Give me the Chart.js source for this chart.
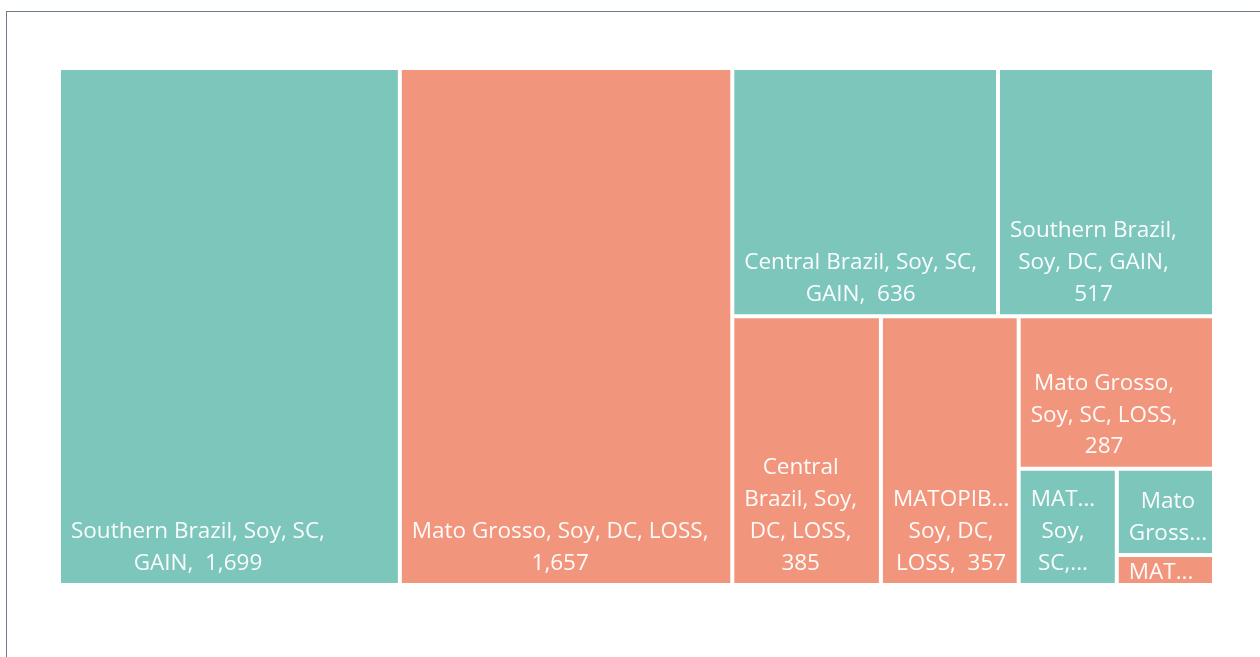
<!DOCTYPE html>
<html>
<head>
<meta charset="utf-8">
<script src="https://cdn.jsdelivr.net/npm/chart.js@4.4.1/dist/chart.umd.min.js"></script>
<style>
  html, body { margin: 0; padding: 0; background: #ffffff; }
  #wrap { position: relative; width: 1260px; height: 657px; overflow: hidden; background: #fff; }
  #frame { position: absolute; left: 6px; top: 11px; width: 1400px; height: 800px;
           border-left: 1px solid #6c7c89; border-top: 1px solid #6c7c89; }
  #c { position: absolute; left: 0; top: 0; }
</style>
</head>
<body>
<div id="wrap">
  <div id="frame"></div>
  <canvas id="c" width="1260" height="657"></canvas>
</div>
<script>
// ---- data ----
const regions = ['Southern Brazil', 'Mato Grosso', 'Central Brazil', 'Southern Brazil', 'Central Brazil',
                 'MATOPIBA', 'Mato Grosso', 'MATOPIBA', 'Mato Grosso', 'MATOPIBA'];
const crops   = ['Soy', 'Soy', 'Soy', 'Soy', 'Soy', 'Soy', 'Soy', 'Soy', 'Corn', 'Corn'];
const systems = ['SC', 'DC', 'SC', 'DC', 'DC', 'DC', 'SC', 'SC', 'SC', 'DC'];
const changes = ['GAIN', 'LOSS', 'GAIN', 'GAIN', 'LOSS', 'LOSS', 'LOSS', 'GAIN', 'GAIN', 'LOSS'];
const values  = [1699, 1657, 636, 517, 385, 357, 287, 110, 81, 28];

const changeColors = { GAIN: '#7dc6bc', LOSS: '#f2957d' };
const cellLabels = values.map((v, i) =>
  regions[i] + ', ' + crops[i] + ', ' + systems[i] + ', ' + changes[i] + ',  ' + v.toLocaleString('en-US'));

// ---- squarified layout helper ----
function worstRatio(row, side) {
  let sum = 0, mx = -Infinity, mn = Infinity;
  row.forEach(a => { sum += a; mx = Math.max(mx, a); mn = Math.min(mn, a); });
  const s2 = side * side, sum2 = sum * sum;
  return Math.max(s2 * mx / sum2, sum2 / (s2 * mn));
}
function squarify(vals, rect) {
  const total = vals.reduce((a, b) => a + b, 0);
  const k = rect.w * rect.h / total;
  const areas = vals.map(v => v * k);
  const out = [];
  let r = Object.assign({}, rect);
  let i = 0;
  while (i < areas.length) {
    const side = Math.min(r.w, r.h);
    let row = [areas[i]], j = i + 1, cur = worstRatio(row, side);
    while (j < areas.length) {
      const nr = row.concat(areas[j]);
      const w = worstRatio(nr, side);
      if (w <= cur) { row = nr; cur = w; j++; } else break;
    }
    const sum = row.reduce((a, b) => a + b, 0);
    if (r.w >= r.h) {
      const t = sum / r.h; let y = r.y;
      row.forEach(a => { const h = a / t; out.push({ x: r.x, y: y, w: t, h: h }); y += h; });
      r = { x: r.x + t, y: r.y, w: r.w - t, h: r.h };
    } else {
      const t = sum / r.w; let x = r.x;
      row.forEach(a => { const w = a / t; out.push({ x: x, y: r.y, w: w, h: t }); x += w; });
      r = { x: r.x, y: r.y + t, w: r.w, h: r.h - t };
    }
    i = j;
  }
  return out;
}

// ---- text helpers ----
const FONT_FAMILY = '"Open Sans", "Noto Sans", "DejaVu Sans", sans-serif';
let FONT_SIZE = 21.33;
const LINE_H = 31.67;
function fitEllipsis(ctx, text, avail) {
  let t = text.replace(/\.\.\.$/, '');
  while (t.length > 1 && ctx.measureText(t + '...').width > avail) t = t.slice(0, -1);
  return t + '...';
}
function wrapLabel(ctx, label, avail, ellAvail, maxLines) {
  const tokens = label.split(' ');
  const lines = [];
  let line = '';
  for (let k = 0; k < tokens.length; k++) {
    const tok = tokens[k];
    if (line === '') {
      if (tok === '') continue;
      if (ctx.measureText(tok).width > avail) { lines.push(fitEllipsis(ctx, tok, ellAvail)); line = ''; continue; }
      line = tok; continue;
    }
    const test = line + ' ' + tok;
    if (ctx.measureText(test.trimEnd()).width <= avail) { line = test; }
    else {
      lines.push(line.trim());
      if (ctx.measureText(tok).width > avail) { lines.push(fitEllipsis(ctx, tok, ellAvail)); line = ''; }
      else line = tok;
    }
  }
  if (line.trim() !== '') lines.push(line.trim());
  if (lines.length > maxLines) {
    const kept = lines.slice(0, maxLines);
    kept[maxLines - 1] = fitEllipsis(ctx, kept[maxLines - 1], ellAvail);
    return kept;
  }
  return lines;
}

// ---- custom treemap controller using the library's scales and BarElement ----
class TreemapLiteController extends Chart.DatasetController {
  parse(start, count) {
    const meta = this._cachedMeta;
    const data = this.getDataset().data;
    for (let i = start; i < start + count; ++i) meta._parsed[i] = { x: i, y: +data[i] };
  }
  getMinMax() { return { min: 0, max: 1 }; }
  update(mode) {
    const meta = this._cachedMeta;
    this.updateElements(meta.data, 0, meta.data.length, mode);
  }
  updateElements(rects, start, count, mode) {
    const meta = this._cachedMeta;
    const xs = meta.xScale, ys = meta.yScale;
    const left = xs.getPixelForValue(xs.min), right = xs.getPixelForValue(xs.max);
    const top = ys.getPixelForValue(ys.min), bottom = ys.getPixelForValue(ys.max);
    const vals = this.getDataset().data.map(Number);
    const layout = squarify(vals, { x: Math.min(left, right), y: Math.min(top, bottom),
                                    w: Math.abs(right - left), h: Math.abs(bottom - top) });
    const gap = 2;
    for (let i = start; i < start + count; i++) {
      const r = layout[i];
      const props = {
        x: r.x + r.w / 2,
        y: r.y + gap,
        base: r.y + r.h - gap,
        width: r.w - 2 * gap,
        height: r.h - 2 * gap,
        horizontal: false,
        borderSkipped: {},
        inflateAmount: 0,
        options: this.resolveDataElementOptions(i, mode)
      };
      this.updateElement(rects[i], i, props, 'none');
    }
  }
  draw() {
    super.draw();
    const ctx = this.chart.ctx;
    const meta = this._cachedMeta;
    const labels = this.chart.data.labels;
    ctx.save();
    ctx.font = '100px ' + FONT_FAMILY;
    const m = ctx.measureText('Southern Brazil, Soy, SC,').width;
    FONT_SIZE = Math.max(18, Math.min(23, 100 * 254 / m));
    ctx.font = FONT_SIZE + 'px ' + FONT_FAMILY;
    ctx.fillStyle = 'rgba(255,255,255,0.96)';
    ctx.textAlign = 'center';
    ctx.textBaseline = 'alphabetic';
    meta.data.forEach((el, i) => {
      const innerL = el.x - el.width / 2;
      const innerT = Math.min(el.y, el.base);
      const innerB = Math.max(el.y, el.base);
      const innerW = el.width, innerH = innerB - innerT;
      const avail = innerW - 20;
      const ellAvail = innerW - 13.5;
      const maxLines = Math.max(1, Math.floor(innerH / LINE_H));
      const lines = wrapLabel(ctx, labels[i], avail, ellAvail, maxLines);
      let blockW = 0;
      lines.forEach(l => { blockW = Math.max(blockW, ctx.measureText(l).width); });
      const cx = innerL + 10 + blockW / 2;
      let lastBase;
      if (innerH < LINE_H) lastBase = innerT + innerH / 2 + FONT_SIZE * 0.36 + 1;
      else lastBase = innerB - 13.5;
      ctx.save();
      ctx.beginPath();
      ctx.rect(innerL, innerT, innerW, innerH);
      ctx.clip();
      lines.forEach((l, k) => {
        ctx.fillText(l, cx, lastBase - (lines.length - 1 - k) * LINE_H);
      });
      ctx.restore();
    });
    ctx.restore();
  }
}
TreemapLiteController.id = 'treemapLite';
TreemapLiteController.defaults = { datasetElementType: false, dataElementType: 'bar' };
Chart.register(TreemapLiteController);

new Chart(document.getElementById('c'), {
  type: 'treemapLite',
  data: {
    labels: cellLabels,
    datasets: [{
      data: values,
      backgroundColor: ctx => changeColors[changes[ctx.dataIndex]],
      borderWidth: 0
    }]
  },
  options: {
    responsive: false,
    animation: false,
    devicePixelRatio: 1,
    events: [],
    layout: { padding: { left: 59, right: 46, top: 68, bottom: 72 } },
    plugins: { legend: { display: false }, tooltip: { enabled: false }, title: { display: false } },
    scales: {
      x: { type: 'linear', min: 0, max: 1, display: false },
      y: { type: 'linear', min: 0, max: 1, display: false, reverse: true }
    }
  }
});
</script>
</body>
</html>
